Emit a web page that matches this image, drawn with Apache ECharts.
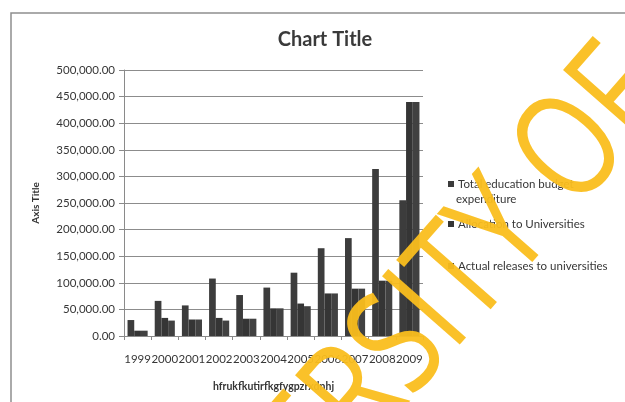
<!DOCTYPE html>
<html>
<head>
<meta charset="utf-8">
<script src="https://cdn.jsdelivr.net/npm/echarts@6/dist/echarts.min.js"></script>
<style>html,body{margin:0;padding:0;background:#fff}#c{width:625px;height:402px}</style>
</head>
<body>
<div id="c"></div>
<script>
var categories = ['1999','2000','2001','2002','2003','2004','2005','2006','2007','2008','2009'];
var totalBudget = [30000, 66000, 57500, 108000, 77000, 91000, 119000, 165000, 184000, 314000, 255000];
var allocation = [10000, 34000, 31000, 34000, 32500, 52000, 61000, 80000, 89000, 104000, 440000];
var releases = [10000, 29000, 31000, 29000, 32500, 52000, 56000, 80000, 89000, 104000, 440000];
var yTicks = [0, 50000, 100000, 150000, 200000, 250000, 300000, 350000, 400000, 450000, 500000];
var seriesNames = ['Total education budget', 'Allocation to Universities', 'Actual releases to universities'];

var FONT = 'Lato';
var TXT = '#363636';
var chart = echarts.init(document.getElementById('c'), null, {renderer: 'canvas'});
function fmt(v){
  return Number(v).toLocaleString('en-US', {minimumFractionDigits: 2, maximumFractionDigits: 2});
}
var legendBase = {
  orient: 'vertical', left: 443, icon: 'rect', itemWidth: 6, itemHeight: 6, itemGap: 0,
  textStyle: {fontFamily: FONT, fontSize: 11.5, color: TXT, padding: [0,0,0,-1]},
  selectedMode: false
};
chart.setOption({
  animation: false,
  backgroundColor: '#fff',
  title: {
    text: 'Chart Title', left: 320, top: 25, textAlign: 'center',
    textStyle: {fontFamily: FONT, fontSize: 20, fontWeight: 'bold', color: '#3a3a3a'}
  },
  legend: [
    Object.assign({}, legendBase, {top: 173, data: [seriesNames[0]]}),
    Object.assign({}, legendBase, {top: 213, data: [seriesNames[1]]}),
    Object.assign({}, legendBase, {top: 255, data: [seriesNames[2]]})
  ],
  grid: {left: 124, right: 202, top: 70, bottom: 66},
  xAxis: {
    type: 'category', data: categories,
    name: 'hfrukfkutirfkgfygpzrxdnhj', nameLocation: 'middle', nameGap: 45,
    nameTextStyle: {fontFamily: FONT, fontSize: 10.5, fontWeight: 'bold', color: TXT},
    axisLine: {lineStyle: {color: '#8a8a8a', width: 1}},
    axisTick: {show: true, length: 4, lineStyle: {color: '#8a8a8a'}},
    axisLabel: {interval: 0, fontFamily: FONT, fontSize: 11.5, color: TXT, margin: 17}
  },
  yAxis: {
    type: 'value', min: 0, max: 500000, interval: 50000,
    name: 'Axis Title', nameLocation: 'middle', nameGap: 83, nameRotate: 90,
    nameTextStyle: {fontFamily: FONT, fontSize: 10, fontWeight: 'bold', color: TXT},
    axisLine: {show: true, lineStyle: {color: '#8a8a8a', width: 1}},
    axisTick: {show: true, length: 5, lineStyle: {color: '#8a8a8a'}},
    splitLine: {show: true, lineStyle: {color: '#8c8c8c', width: 1}},
    axisLabel: {
      fontFamily: FONT, fontSize: 11.5, color: TXT, margin: 9,
      formatter: function(v){ return yTicks.indexOf(v) >= 0 ? fmt(v) : ''; }
    }
  },
  series: [
    {name: seriesNames[0], type: 'bar', data: totalBudget, barGap: '0%', barCategoryGap: '26%', itemStyle: {color: '#3c3c3c'}},
    {name: seriesNames[1], type: 'bar', data: allocation, barGap: '0%', barCategoryGap: '26%', itemStyle: {color: '#353535'}},
    {name: seriesNames[2], type: 'bar', data: releases, barGap: '0%', barCategoryGap: '26%', itemStyle: {color: '#414141'}}
  ],
  graphic: [
    {type: 'polyline', shape: {points: [[11, 402], [11, 13], [625, 13]]}, style: {stroke: '#8e8e8e', lineWidth: 1.5, fill: null}, silent: true},
    {type: 'text', left: 456, top: 193, style: {text: 'expenditure', fontFamily: FONT, fontSize: 11.5, fill: TXT}, silent: true},
    {type: 'text', x: 117, y: 672, rotation: 0.85, scaleX: 0.78, scaleY: 1, z: 100, silent: true,
     style: {text: 'UNIVERSITY OF', fontFamily: 'Open Sans', fontSize: 145, fontWeight: 'normal', fill: 'rgba(250,190,30,0.95)', textAlign: 'left', textVerticalAlign: 'middle'}}
  ]
});
</script>
</body>
</html>
